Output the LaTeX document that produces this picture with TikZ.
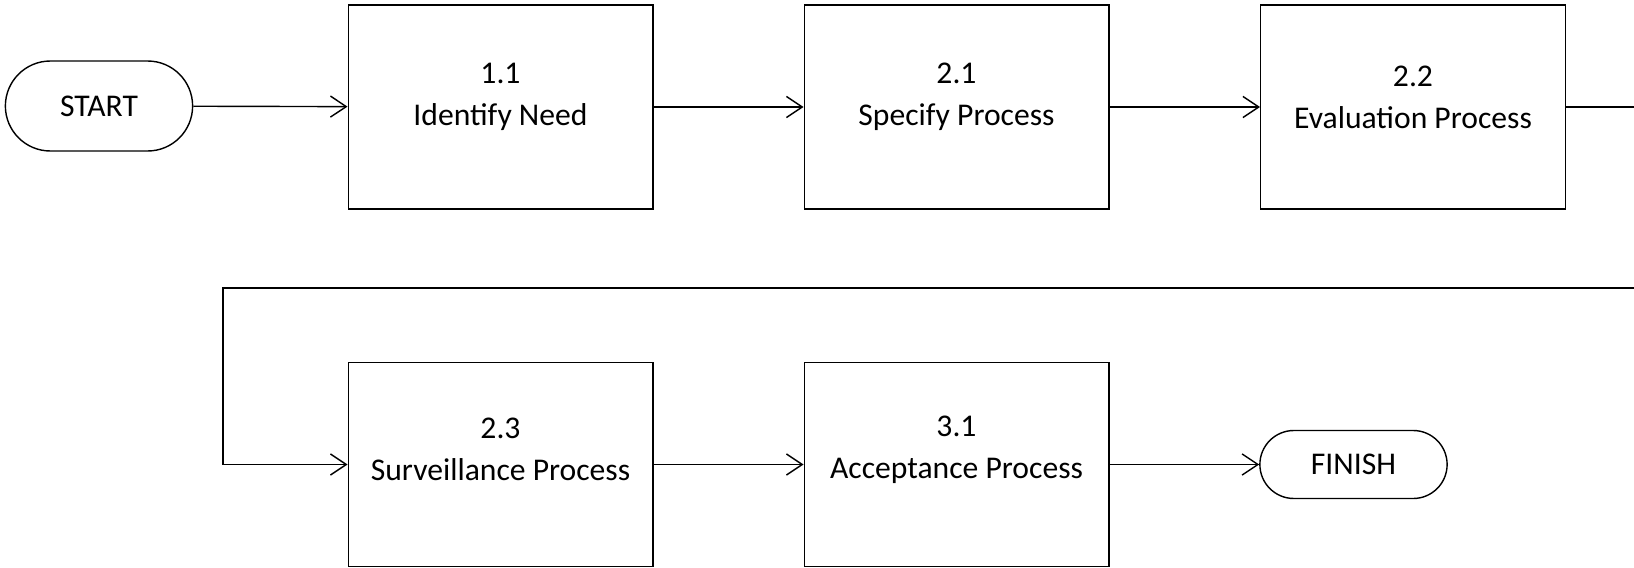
\documentclass[tikz,border=0pt]{standalone}
\usepackage{fontspec}
\setmainfont{Carlito}
\usetikzlibrary{shapes.misc, arrows.meta, positioning, calc}

\begin{document}
\begin{tikzpicture}[x=0.02cm, y=-0.02cm,
  font=\fontsize{18}{24}\selectfont,
  terminal/.style={rounded rectangle, draw, line width=0.8pt, minimum width=3.98cm},
  proc/.style={rectangle, draw, line width=0.6pt, minimum width=6.1cm, minimum height=4.08cm},
  flow/.style={line width=0.8pt, -{Straight Barb[length=9pt, width=12pt, line width=0.8pt]}},
  plain/.style={line width=0.8pt}]
\useasboundingbox (0,0) rectangle (1634,568);
% top row
\node[terminal, minimum height=1.8cm] (start) at (99,106) {START};
\node[proc, label={[yshift=0.2cm, align=center]center:{1.1\\Identify Need}}] (n11) at (500.5,107) {};
\node[proc, label={[yshift=0.2cm, align=center]center:{2.1\\Specify Process}}] (n21) at (956.5,107) {};
\node[proc, label={[yshift=0.2cm, align=center]center:{2.2\\Evaluation Process}}] (n22) at (1413,107) {};
% bottom row
\node[proc, label={[yshift=0.3cm, align=center]center:{2.3\\Surveillance Process}}] (n23) at (500.5,464.5) {};
\node[proc, label={[yshift=0.3cm, align=center]center:{3.1\\Acceptance Process}}] (n31) at (956.5,464.5) {};
\node[terminal, minimum height=1.36cm] (finish) at (1353.5,464.5) {FINISH};
\coordinate (exitR) at (1634,107);
\coordinate (loopR) at (1634,288);
\coordinate (loopL) at (223,288);

\draw[flow] (start) -- (n11);
\draw[flow] (n11) -- (n21);
\draw[flow] (n21) -- (n22);
\draw[plain] (n22) -- (exitR);
\draw[flow] (loopR) -- (loopL) |- (n23);
\draw[flow] (n23) -- (n31);
\draw[flow] (n31) -- (finish);
\end{tikzpicture}
\end{document}
